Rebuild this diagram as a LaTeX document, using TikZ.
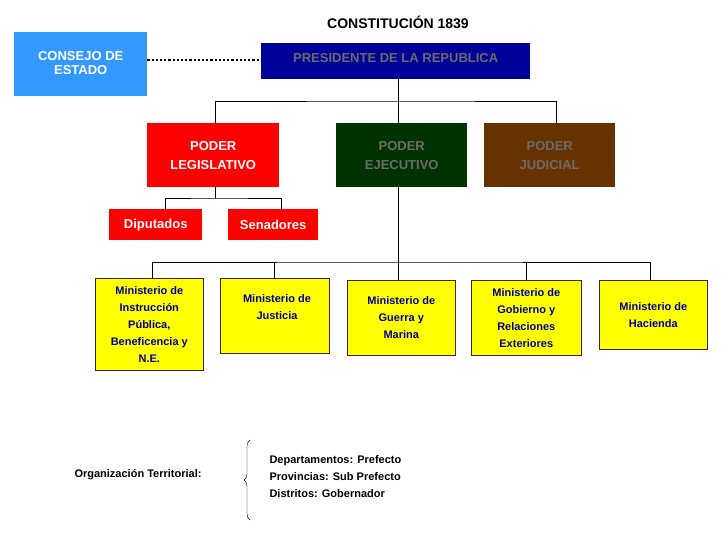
\documentclass[tikz,border=0pt]{standalone}
\usepackage{fontspec}
\setmainfont{Liberation Sans}
\usetikzlibrary{decorations.pathreplacing}
\definecolor{navy}{HTML}{000099}
\definecolor{txtgray}{HTML}{6B6B6B}
\definecolor{lblue}{HTML}{3399FF}
\definecolor{dgreen}{HTML}{003300}
\definecolor{brownj}{HTML}{663300}
\definecolor{ministry}{HTML}{FFFF00}
\begin{document}
\begin{tikzpicture}[x=1pt,y=-1pt,
  box/.style={anchor=north west,inner sep=0pt,align=center,font=\bfseries\fontsize{13}{19}\selectfont},
  min/.style={box,draw=brownj!70!black,fill=ministry,text=navy,font=\bfseries\fontsize{11}{17}\selectfont,line width=0.6pt},
  conn/.style={line width=0.6pt}]
\useasboundingbox (0,0) rectangle (728,546);
\node[font=\bfseries\fontsize{14}{16}\selectfont] (title) at (398,22) {CONSTITUCIÓN 1839};
\node[box,fill=lblue,text=white,minimum width=133pt,minimum height=64pt] (cons) at (14,32) {\raisebox{3pt}{\shortstack{CONSEJO DE\\[2pt]ESTADO}}};
\node[box,fill=navy,text=txtgray,minimum width=269pt,minimum height=36pt] (pres) at (261,43) {\raisebox{6pt}{PRESIDENTE DE LA REPUBLICA}};
\node[box,fill=red,text=white,minimum width=132pt,minimum height=64pt] (leg) at (147,123) {PODER\\LEGISLATIVO};
\node[box,fill=dgreen,text=txtgray,minimum width=131pt,minimum height=64pt] (eje) at (336,123) {PODER\\EJECUTIVO};
\node[box,fill=brownj,text=txtgray,minimum width=131pt,minimum height=64pt] (jud) at (484,123) {PODER\\JUDICIAL};
\node[box,fill=red,text=white,minimum width=93pt,minimum height=31pt] (dip) at (109,209) {Diputados};
\node[box,fill=red,text=white,minimum width=90pt,minimum height=31pt] (sen) at (228,209) {Senadores};
\node[min,minimum width=108pt,minimum height=92pt] (m1) at (95,278) {Ministerio de\\Instrucción\\Pública,\\Beneficencia y\\N.E.};
\node[min,minimum width=109pt,minimum height=75pt] (m2) at (220,278) {};
\node[font=\bfseries\fontsize{11}{17}\selectfont,text=navy,align=center,anchor=north] (m2t) at (277,291) {Ministerio de\\Justicia};
\node[min,minimum width=108pt,minimum height=75pt] (m3) at (347,280) {Ministerio de\\Guerra y\\Marina};
\node[min,minimum width=110pt,minimum height=75pt] (m4) at (471,280) {Ministerio de\\Gobierno y\\Relaciones\\Exteriores};
\node[min,minimum width=108pt,minimum height=69pt] (m5) at (599,280) {Ministerio de\\Hacienda};
% connectors
\draw[line width=2.2pt,dotted] (cons.east |- 0,60) -- (pres.west |- 0,60);
\draw[conn] (pres.south -| 398,0) -- (eje.north -| 398,0);
\draw[conn] (leg.north -| 215,0) |- (pres.south |- 0,101) -| (jud.north -| 556,0);
\draw[conn] (leg.south -| 215,0) -- (215,198) coordinate (lb);
\draw[conn] (dip.north -| 165,0) |- (lb) -| (sen.north -| 281,0);
\draw[conn] (eje.south -| 398,0) -- (398,262) coordinate (eb);
\draw[conn] (m1.north -| 152,0) |- (eb) -| (m5.north -| 650,0);
\draw[conn] (eb -| 274,0) -- (m2.north -| 274,0);
\draw[conn] (eb -| 398,0) -- (m3.north -| 398,0);
\draw[conn] (eb -| 526,0) -- (m4.north -| 526,0);
% territorial
\node[font=\bfseries\fontsize{11}{13}\selectfont] (org) at (138,475) {Organización Territorial:};
\coordinate (bt) at (250,440); \coordinate (bb) at (250,520);
\draw[decorate,decoration={brace,amplitude=6pt,mirror}] (bt) -- (bb);
\node[anchor=west,align=left,font=\bfseries\fontsize{11}{17}\selectfont] (list) at (266,477) {Departamentos: Prefecto\\Provincias: Sub Prefecto\\Distritos: Gobernador};
\end{tikzpicture}
\end{document}
